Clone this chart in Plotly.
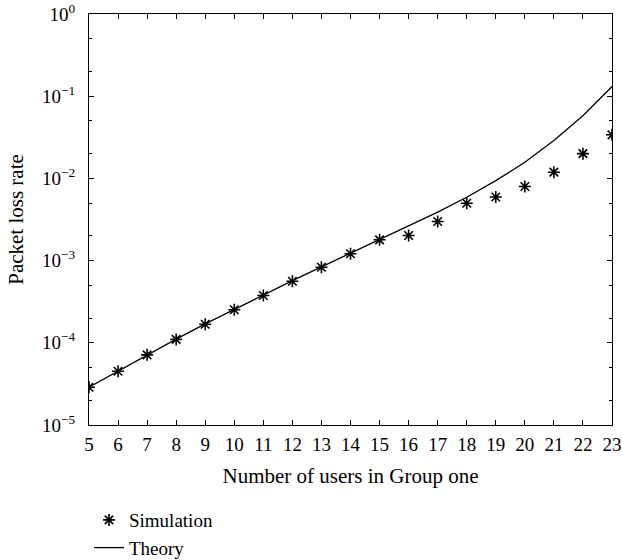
import plotly.graph_objects as go

# Number of users in Group one
users = list(range(5, 24))

# Simulated packet loss rate
simulation = [2.88e-5, 4.51e-5, 7.14e-5, 1.10e-4, 1.68e-4, 2.52e-4, 3.76e-4,
              5.61e-4, 8.31e-4, 1.21e-3, 1.79e-3, 2.02e-3, 2.99e-3, 4.99e-3,
              5.94e-3, 7.97e-3, 1.19e-2, 2.00e-2, 3.39e-2]

# Theoretical packet loss rate
theory = [2.88e-5, 4.55e-5, 7.15e-5, 1.11e-4, 1.70e-4, 2.55e-4, 3.80e-4,
          5.70e-4, 8.40e-4, 1.23e-3, 1.80e-3, 2.60e-3, 3.88e-3, 5.90e-3,
          9.40e-3, 1.57e-2, 2.89e-2, 5.80e-2, 1.31e-1]

y_tickvals = [1e-5, 1e-4, 1e-3, 1e-2, 1e-1, 1]
y_ticktext = ["10<sup>\u22125</sup>", "10<sup>\u22124</sup>", "10<sup>\u22123</sup>",
              "10<sup>\u22122</sup>", "10<sup>\u22121</sup>", "10<sup>0</sup>"]

FONT = "Liberation Serif, Times New Roman, serif"
TICK_SIZE = 19
LABEL_SIZE = 21
LEGEND_SIZE = 19

fig = go.Figure()
fig.add_trace(go.Scatter(
    x=users, y=simulation, mode="markers", name="Simulation",
    marker=dict(symbol="asterisk-open", size=10, color="black",
                line=dict(color="black", width=1.6)),
))
fig.add_trace(go.Scatter(
    x=users, y=theory, mode="lines", name="Theory",
    line=dict(color="black", width=1.3),
))

axis_common = dict(
    showline=True, linecolor="black", linewidth=1, mirror="ticks",
    ticks="inside", tickcolor="black", ticklen=5, tickwidth=1,
    showgrid=False, zeroline=False, automargin=False,
    tickfont=dict(family=FONT, size=TICK_SIZE, color="black"),
)

fig.update_xaxes(
    range=[5, 23], tickmode="array", tickvals=users,
    ticklabelstandoff=2,
    title=dict(text="Number of users in Group one",
               font=dict(family=FONT, size=LABEL_SIZE, color="black"),
               standoff=14),
    **axis_common,
)
fig.update_yaxes(
    type="log", range=[-5, 0], tickmode="array",
    tickvals=y_tickvals, ticktext=y_ticktext,
    ticklabelstandoff=9,
    minor=dict(ticks="inside", ticklen=3, tickcolor="black", tickwidth=1,
               showgrid=False),
    title=dict(text="Packet loss rate",
               font=dict(family=FONT, size=LABEL_SIZE, color="black"),
               standoff=12),
    **axis_common,
)

fig.update_layout(
    width=622, height=560,
    margin=dict(l=89, r=10, t=14, b=135, autoexpand=False),
    paper_bgcolor="white", plot_bgcolor="white",
    font=dict(family=FONT, size=LABEL_SIZE, color="black"),
    showlegend=True,
    legend=dict(x=0.0, y=-0.185, xanchor="left", yanchor="top",
                bgcolor="rgba(0,0,0,0)", tracegroupgap=0,
                font=dict(family=FONT, size=LEGEND_SIZE, color="black")),
)

fig.write_html("out.html")
